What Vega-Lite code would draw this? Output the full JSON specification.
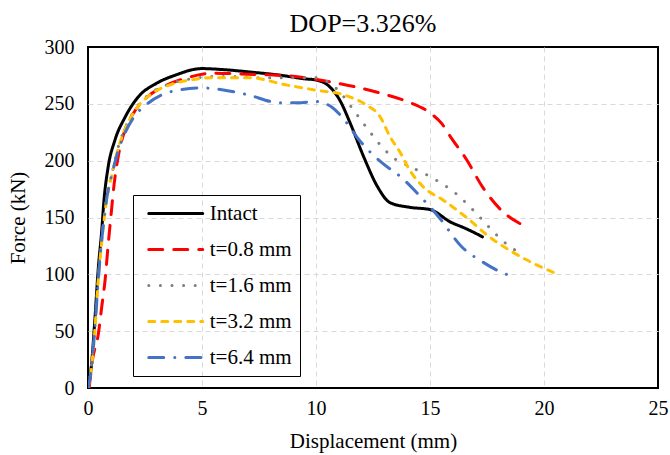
{
  "$schema": "https://vega.github.io/schema/vega-lite/v6.json",
  "width": 570,
  "height": 341,
  "autosize": "none",
  "padding": {"left": 88, "top": 47, "right": 12, "bottom": 67},
  "background": "white",
  "title": {"text": "DOP=3.326%", "font": "Liberation Serif", "fontSize": 26, "fontWeight": "normal", "color": "black", "frame": "group", "offset": 0, "dx": -10},
  "config": {
    "view": {"stroke": "black", "strokeWidth": 2},
    "axis": {
      "labelFont": "Liberation Serif", "labelFontSize": 20, "labelColor": "black",
      "titleFont": "Liberation Serif", "titleFontSize": 21, "titleFontWeight": "normal", "titleColor": "black",
      "domain": false, "ticks": false,
      "grid": true, "gridColor": "#d9d9d9", "gridDash": [5, 4], "gridWidth": 1
    },
    "legend": {
      "labelFont": "Liberation Serif", "labelFontSize": 21, "labelColor": "black"
    }
  },
  "data": {"values": [
    {"series": "Intact", "x": 0, "y": 0},
    {"series": "Intact", "x": 0.15, "y": 20},
    {"series": "Intact", "x": 0.3, "y": 60},
    {"series": "Intact", "x": 0.45, "y": 105},
    {"series": "Intact", "x": 0.6, "y": 138},
    {"series": "Intact", "x": 0.7, "y": 165},
    {"series": "Intact", "x": 0.88, "y": 194},
    {"series": "Intact", "x": 1.18, "y": 218},
    {"series": "Intact", "x": 1.62, "y": 238},
    {"series": "Intact", "x": 2.2, "y": 256},
    {"series": "Intact", "x": 3.0, "y": 268},
    {"series": "Intact", "x": 3.8, "y": 275},
    {"series": "Intact", "x": 5.0, "y": 281},
    {"series": "Intact", "x": 6.0, "y": 280},
    {"series": "Intact", "x": 7.1, "y": 278},
    {"series": "Intact", "x": 8.5, "y": 275},
    {"series": "Intact", "x": 9.5, "y": 272},
    {"series": "Intact", "x": 10.0, "y": 271},
    {"series": "Intact", "x": 10.6, "y": 265},
    {"series": "Intact", "x": 11.05, "y": 253},
    {"series": "Intact", "x": 11.5, "y": 233},
    {"series": "Intact", "x": 12.1, "y": 203},
    {"series": "Intact", "x": 12.7, "y": 177},
    {"series": "Intact", "x": 13.25, "y": 163},
    {"series": "Intact", "x": 14.1, "y": 159},
    {"series": "Intact", "x": 15.0, "y": 157},
    {"series": "Intact", "x": 15.9, "y": 146},
    {"series": "Intact", "x": 16.6, "y": 140},
    {"series": "Intact", "x": 17.3, "y": 133},

    {"series": "t=0.8 mm", "x": 0.05, "y": 0},
    {"series": "t=0.8 mm", "x": 0.2, "y": 25},
    {"series": "t=0.8 mm", "x": 0.45, "y": 47},
    {"series": "t=0.8 mm", "x": 0.6, "y": 71},
    {"series": "t=0.8 mm", "x": 0.75, "y": 95},
    {"series": "t=0.8 mm", "x": 0.88, "y": 125},
    {"series": "t=0.8 mm", "x": 1.0, "y": 150},
    {"series": "t=0.8 mm", "x": 1.15, "y": 180},
    {"series": "t=0.8 mm", "x": 1.32, "y": 203},
    {"series": "t=0.8 mm", "x": 1.62, "y": 227},
    {"series": "t=0.8 mm", "x": 2.0, "y": 242},
    {"series": "t=0.8 mm", "x": 2.6, "y": 256},
    {"series": "t=0.8 mm", "x": 3.3, "y": 265},
    {"series": "t=0.8 mm", "x": 4.2, "y": 272},
    {"series": "t=0.8 mm", "x": 5.5, "y": 277},
    {"series": "t=0.8 mm", "x": 7.0, "y": 276},
    {"series": "t=0.8 mm", "x": 8.6, "y": 275},
    {"series": "t=0.8 mm", "x": 10.7, "y": 269},
    {"series": "t=0.8 mm", "x": 12.9, "y": 259},
    {"series": "t=0.8 mm", "x": 14.0, "y": 252},
    {"series": "t=0.8 mm", "x": 15.0, "y": 242},
    {"series": "t=0.8 mm", "x": 15.5, "y": 233},
    {"series": "t=0.8 mm", "x": 15.9, "y": 221},
    {"series": "t=0.8 mm", "x": 16.6, "y": 201},
    {"series": "t=0.8 mm", "x": 17.3, "y": 177},
    {"series": "t=0.8 mm", "x": 18.2, "y": 155},
    {"series": "t=0.8 mm", "x": 19.1, "y": 143},

    {"series": "t=1.6 mm", "x": 0, "y": 0},
    {"series": "t=1.6 mm", "x": 0.1, "y": 12},
    {"series": "t=1.6 mm", "x": 0.3, "y": 52},
    {"series": "t=1.6 mm", "x": 0.45, "y": 97},
    {"series": "t=1.6 mm", "x": 0.6, "y": 130},
    {"series": "t=1.6 mm", "x": 0.8, "y": 164},
    {"series": "t=1.6 mm", "x": 1.1, "y": 193},
    {"series": "t=1.6 mm", "x": 1.3, "y": 210},
    {"series": "t=1.6 mm", "x": 1.55, "y": 225},
    {"series": "t=1.6 mm", "x": 2.06, "y": 245},
    {"series": "t=1.6 mm", "x": 2.8, "y": 260},
    {"series": "t=1.6 mm", "x": 3.5, "y": 267},
    {"series": "t=1.6 mm", "x": 4.5, "y": 272},
    {"series": "t=1.6 mm", "x": 5.5, "y": 274},
    {"series": "t=1.6 mm", "x": 6.5, "y": 274},
    {"series": "t=1.6 mm", "x": 7.5, "y": 273},
    {"series": "t=1.6 mm", "x": 8.5, "y": 273},
    {"series": "t=1.6 mm", "x": 9.9, "y": 273},
    {"series": "t=1.6 mm", "x": 10.7, "y": 267},
    {"series": "t=1.6 mm", "x": 11.1, "y": 259},
    {"series": "t=1.6 mm", "x": 11.7, "y": 243},
    {"series": "t=1.6 mm", "x": 12.3, "y": 227},
    {"series": "t=1.6 mm", "x": 12.9, "y": 212},
    {"series": "t=1.6 mm", "x": 13.5, "y": 201},
    {"series": "t=1.6 mm", "x": 14.1, "y": 195},
    {"series": "t=1.6 mm", "x": 15.0, "y": 186},
    {"series": "t=1.6 mm", "x": 16.2, "y": 170},
    {"series": "t=1.6 mm", "x": 17.2, "y": 150},
    {"series": "t=1.6 mm", "x": 17.9, "y": 135},
    {"series": "t=1.6 mm", "x": 18.6, "y": 123},
    {"series": "t=1.6 mm", "x": 19.1, "y": 118},

    {"series": "t=3.2 mm", "x": 0, "y": 0},
    {"series": "t=3.2 mm", "x": 0.1, "y": 10},
    {"series": "t=3.2 mm", "x": 0.3, "y": 50},
    {"series": "t=3.2 mm", "x": 0.45, "y": 95},
    {"series": "t=3.2 mm", "x": 0.6, "y": 128},
    {"series": "t=3.2 mm", "x": 0.8, "y": 163},
    {"series": "t=3.2 mm", "x": 1.1, "y": 192},
    {"series": "t=3.2 mm", "x": 1.3, "y": 209},
    {"series": "t=3.2 mm", "x": 1.55, "y": 224},
    {"series": "t=3.2 mm", "x": 2.06, "y": 244},
    {"series": "t=3.2 mm", "x": 2.8, "y": 259},
    {"series": "t=3.2 mm", "x": 3.5, "y": 266},
    {"series": "t=3.2 mm", "x": 4.5, "y": 271},
    {"series": "t=3.2 mm", "x": 5.5, "y": 273},
    {"series": "t=3.2 mm", "x": 7.1, "y": 273},
    {"series": "t=3.2 mm", "x": 8.6, "y": 267},
    {"series": "t=3.2 mm", "x": 10.0, "y": 262},
    {"series": "t=3.2 mm", "x": 11.2, "y": 258},
    {"series": "t=3.2 mm", "x": 12.2, "y": 249},
    {"series": "t=3.2 mm", "x": 12.8, "y": 239},
    {"series": "t=3.2 mm", "x": 13.25, "y": 221},
    {"series": "t=3.2 mm", "x": 13.7, "y": 207},
    {"series": "t=3.2 mm", "x": 14.1, "y": 192},
    {"series": "t=3.2 mm", "x": 14.7, "y": 177},
    {"series": "t=3.2 mm", "x": 15.6, "y": 165},
    {"series": "t=3.2 mm", "x": 16.6, "y": 150},
    {"series": "t=3.2 mm", "x": 17.6, "y": 133},
    {"series": "t=3.2 mm", "x": 18.5, "y": 121},
    {"series": "t=3.2 mm", "x": 19.5, "y": 110},
    {"series": "t=3.2 mm", "x": 20.5, "y": 101},

    {"series": "t=6.4 mm", "x": 0, "y": 0},
    {"series": "t=6.4 mm", "x": 0.1, "y": 10},
    {"series": "t=6.4 mm", "x": 0.3, "y": 52},
    {"series": "t=6.4 mm", "x": 0.45, "y": 95},
    {"series": "t=6.4 mm", "x": 0.6, "y": 130},
    {"series": "t=6.4 mm", "x": 0.8, "y": 164},
    {"series": "t=6.4 mm", "x": 1.1, "y": 192},
    {"series": "t=6.4 mm", "x": 1.3, "y": 207},
    {"series": "t=6.4 mm", "x": 1.55, "y": 221},
    {"series": "t=6.4 mm", "x": 2.0, "y": 238},
    {"series": "t=6.4 mm", "x": 2.6, "y": 250},
    {"series": "t=6.4 mm", "x": 3.7, "y": 261},
    {"series": "t=6.4 mm", "x": 5.0, "y": 264},
    {"series": "t=6.4 mm", "x": 6.0, "y": 262},
    {"series": "t=6.4 mm", "x": 7.0, "y": 258},
    {"series": "t=6.4 mm", "x": 8.4, "y": 251},
    {"series": "t=6.4 mm", "x": 9.2, "y": 251},
    {"series": "t=6.4 mm", "x": 10.0, "y": 252},
    {"series": "t=6.4 mm", "x": 10.7, "y": 247},
    {"series": "t=6.4 mm", "x": 11.2, "y": 237},
    {"series": "t=6.4 mm", "x": 11.9, "y": 218},
    {"series": "t=6.4 mm", "x": 12.9, "y": 198},
    {"series": "t=6.4 mm", "x": 13.7, "y": 186},
    {"series": "t=6.4 mm", "x": 14.6, "y": 168},
    {"series": "t=6.4 mm", "x": 15.4, "y": 150},
    {"series": "t=6.4 mm", "x": 16.4, "y": 124},
    {"series": "t=6.4 mm", "x": 17.3, "y": 111},
    {"series": "t=6.4 mm", "x": 18.0, "y": 103},
    {"series": "t=6.4 mm", "x": 18.8, "y": 97}
  ]},
  "mark": {"type": "line", "strokeCap": "round", "interpolate": "monotone", "clip": true},
  "encoding": {
    "x": {"field": "x", "type": "quantitative", "title": "Displacement  (mm)",
      "scale": {"domain": [0, 25], "nice": false},
      "axis": {"values": [0, 5, 10, 15, 20, 25], "labelPadding": 10, "titlePadding": 12, "labelFlush": false,
        "gridOpacity": {"condition": {"test": "datum.value == 0 || datum.value == 25", "value": 0}, "value": 1}}},
    "y": {"field": "y", "type": "quantitative", "title": "Force (kN)",
      "scale": {"domain": [0, 300], "nice": false},
      "axis": {"values": [0, 50, 100, 150, 200, 250, 300], "labelPadding": 14, "titlePadding": 16,
        "gridOpacity": {"condition": {"test": "datum.value == 0 || datum.value == 300", "value": 0}, "value": 1}}},
    "color": {"field": "series", "type": "nominal",
      "scale": {"domain": ["Intact", "t=0.8 mm", "t=1.6 mm", "t=3.2 mm", "t=6.4 mm"],
                "range": ["#000000", "#ff0000", "#808080", "#ffc000", "#4472c4"]},
      "legend": {"title": null, "orient": "none", "legendX": 45, "legendY": 148,
        "strokeColor": "black", "padding": 8,
        "symbolType": "M-4,0H4", "symbolSize": 182.25,
        "symbolOffset": 24.25, "labelOffset": 23.5, "rowPadding": 14,
        "encoding": {"symbols": {"strokeCap": {"value": "round"}}}}},
    "strokeWidth": {"field": "series", "type": "nominal",
      "scale": {"domain": ["Intact", "t=0.8 mm", "t=1.6 mm", "t=3.2 mm", "t=6.4 mm"],
                "range": [3, 3, 5, 3, 3]},
      "legend": {"title": null}},
    "strokeDash": {"field": "series", "type": "nominal",
      "scale": {"domain": ["Intact", "t=0.8 mm", "t=1.6 mm", "t=3.2 mm", "t=6.4 mm"],
                "range": [[1, 0], [14, 11], [0.1, 11.5], [6, 7], [15, 11, 0.1, 11]]},
      "legend": {"title": null}}
  }
}
